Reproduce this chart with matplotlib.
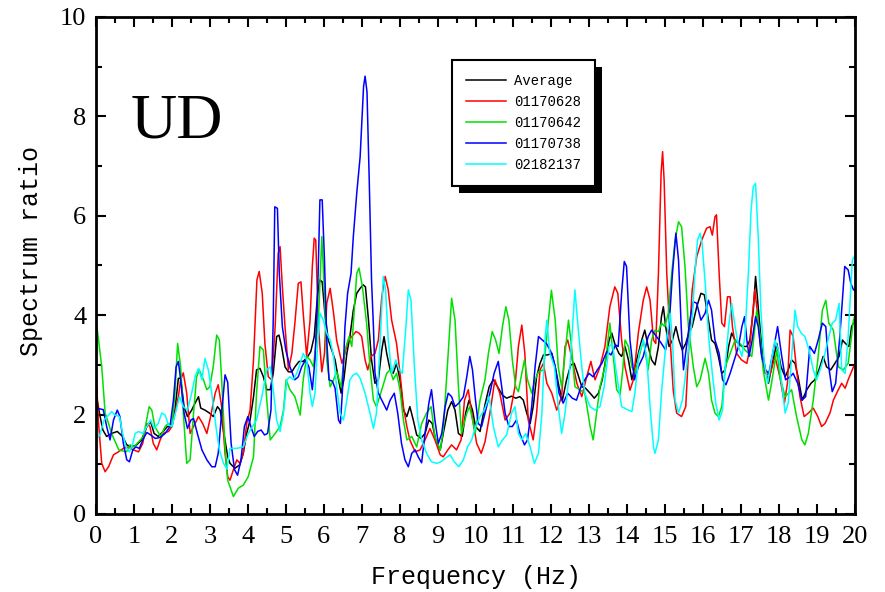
import matplotlib
matplotlib.use("Agg")
import matplotlib.pyplot as plt
import matplotlib.patheffects as pe
from matplotlib.ticker import MultipleLocator

# (frequency Hz, spectrum ratio)
average = [
    (0, 2.43), (0.09, 2.03), (0.18, 1.69), (0.28, 1.56), (0.41, 1.62), (0.56, 1.66), (0.7, 1.56),
    (0.81, 1.39), (0.94, 1.35), (1.07, 1.39), (1.2, 1.49), (1.34, 1.76), (1.44, 1.86), (1.53, 1.62),
    (1.64, 1.56), (1.77, 1.66), (1.88, 1.76), (2.0, 1.76), (2.08, 2.09), (2.17, 2.73), (2.23, 2.73),
    (2.32, 2.16), (2.41, 1.96), (2.52, 2.09), (2.61, 2.23), (2.7, 2.36), (2.76, 2.13), (2.87, 2.09),
    (2.99, 2.03), (3.09, 1.96), (3.2, 2.16), (3.27, 2.09), (3.37, 1.62), (3.47, 1.15), (3.53, 1.02),
    (3.66, 0.92), (3.79, 0.99), (3.88, 1.22), (3.97, 1.62), (4.06, 1.89), (4.15, 2.36), (4.23, 2.9),
    (4.32, 2.93), (4.41, 2.76), (4.5, 2.5), (4.59, 2.5), (4.67, 2.83), (4.76, 3.57), (4.82, 3.6),
    (4.89, 3.37), (4.98, 2.96), (5.07, 2.86), (5.16, 2.86), (5.24, 2.96), (5.35, 3.07), (5.46, 3.07),
    (5.58, 3.17), (5.66, 3.27), (5.75, 3.57), (5.84, 4.44), (5.9, 4.71), (5.96, 4.67), (6.03, 4.04),
    (6.12, 3.5), (6.21, 3.3), (6.3, 3.1), (6.39, 2.7), (6.46, 2.43), (6.53, 2.7), (6.61, 3.23),
    (6.69, 3.57), (6.78, 4.1), (6.87, 4.44), (6.96, 4.54), (7.04, 4.61), (7.1, 4.57), (7.18, 3.9),
    (7.26, 3.1), (7.35, 2.63), (7.44, 2.7), (7.53, 3.3), (7.59, 3.57), (7.66, 3.23), (7.75, 2.9),
    (7.83, 2.83), (7.92, 3.03), (8.01, 2.7), (8.1, 2.09), (8.19, 1.96), (8.27, 2.16), (8.36, 1.89),
    (8.45, 1.59), (8.56, 1.52), (8.67, 1.62), (8.77, 1.89), (8.86, 1.82), (8.95, 1.49), (9.07, 1.29),
    (9.15, 1.62), (9.27, 2.09), (9.37, 2.26), (9.46, 2.09), (9.55, 1.62), (9.65, 1.56), (9.74, 2.03),
    (9.83, 2.29), (9.92, 2.09), (10.0, 1.76), (10.12, 1.66), (10.25, 2.2), (10.36, 2.56), (10.47, 2.7),
    (10.58, 2.56), (10.71, 2.39), (10.82, 2.33), (10.95, 2.37), (11.06, 2.33), (11.17, 2.36),
    (11.26, 2.29), (11.35, 2.03), (11.44, 1.82), (11.52, 2.16), (11.61, 2.76), (11.7, 3.03),
    (11.79, 3.2), (11.9, 3.2), (12.01, 3.23), (12.1, 2.96), (12.2, 2.56), (12.29, 2.29), (12.4, 2.7),
    (12.51, 3.0), (12.6, 3.03), (12.69, 2.83), (12.8, 2.56), (12.9, 2.53), (13.02, 2.43), (13.13, 2.33),
    (13.24, 2.43), (13.34, 2.7), (13.43, 3.1), (13.52, 3.5), (13.59, 3.64), (13.68, 3.4), (13.78, 3.23),
    (13.85, 3.17), (13.94, 3.37), (14.03, 3.1), (14.12, 2.7), (14.2, 2.96), (14.29, 3.23), (14.38, 3.5),
    (14.46, 3.7), (14.55, 3.37), (14.64, 3.1), (14.73, 3.0), (14.82, 3.37), (14.9, 3.97), (14.95, 4.17),
    (15.01, 3.77), (15.1, 3.37), (15.19, 3.5), (15.28, 3.77), (15.36, 3.5), (15.45, 3.3), (15.54, 3.43),
    (15.62, 3.64), (15.71, 3.77), (15.83, 4.17), (15.94, 4.44), (16.03, 4.41), (16.11, 4.04),
    (16.22, 3.5), (16.31, 3.43), (16.4, 3.17), (16.49, 2.83), (16.58, 2.9), (16.67, 3.37), (16.75, 3.64),
    (16.84, 3.5), (16.93, 3.43), (17.02, 3.37), (17.15, 3.37), (17.23, 3.5), (17.32, 4.1), (17.38, 4.78),
    (17.45, 4.17), (17.54, 3.37), (17.64, 2.9), (17.72, 2.63), (17.82, 3.03), (17.94, 3.43),
    (18.05, 2.96), (18.16, 2.76), (18.24, 2.9), (18.33, 3.1), (18.42, 3.03), (18.5, 2.76), (18.61, 2.29),
    (18.73, 2.5), (18.84, 2.63), (18.94, 2.7), (19.05, 2.9), (19.16, 3.17), (19.25, 2.96), (19.36, 2.9),
    (19.47, 3.03), (19.58, 3.17), (19.67, 3.5), (19.75, 3.43), (19.84, 3.37), (19.91, 3.77), (20.0, 3.9),
]

rec_0628 = [
    (0, 2.93), (0.06, 1.89), (0.15, 1.02), (0.24, 0.85), (0.33, 0.95), (0.46, 1.19), (0.59, 1.25),
    (0.72, 1.32), (0.85, 1.35), (0.98, 1.29), (1.12, 1.25), (1.23, 1.42), (1.34, 1.82), (1.42, 1.76),
    (1.51, 1.42), (1.6, 1.29), (1.69, 1.49), (1.77, 1.62), (1.91, 1.66), (2.0, 1.76), (2.08, 2.03),
    (2.17, 2.36), (2.23, 2.7), (2.3, 2.84), (2.39, 2.43), (2.48, 1.62), (2.57, 1.76), (2.7, 1.96),
    (2.81, 1.82), (2.92, 1.62), (3.0, 1.89), (3.14, 2.43), (3.22, 2.6), (3.31, 2.16), (3.4, 1.22),
    (3.47, 0.75), (3.53, 0.68), (3.62, 0.89), (3.71, 1.09), (3.79, 1.02), (3.88, 1.22), (3.97, 1.82),
    (4.06, 2.09), (4.15, 3.1), (4.24, 4.71), (4.3, 4.88), (4.38, 4.44), (4.45, 3.43), (4.54, 2.76),
    (4.63, 2.7), (4.72, 3.77), (4.8, 5.24), (4.85, 5.38), (4.91, 4.57), (4.98, 3.77), (5.07, 2.9),
    (5.16, 3.23), (5.24, 3.84), (5.33, 4.64), (5.4, 4.67), (5.46, 4.04), (5.55, 3.17), (5.64, 3.9),
    (5.7, 4.98), (5.75, 5.55), (5.79, 5.51), (5.86, 3.77), (5.95, 2.86), (6.02, 3.23), (6.08, 4.24),
    (6.17, 4.54), (6.26, 4.04), (6.34, 3.5), (6.48, 3.03), (6.56, 3.23), (6.65, 3.5), (6.74, 3.57),
    (6.85, 3.67), (6.93, 3.64), (7.0, 3.57), (7.09, 3.1), (7.16, 2.9), (7.25, 3.17), (7.35, 3.23),
    (7.44, 3.5), (7.53, 4.37), (7.62, 4.78), (7.7, 4.51), (7.79, 3.9), (7.92, 3.43), (8.01, 2.83),
    (8.1, 2.16), (8.19, 1.76), (8.27, 1.49), (8.41, 1.25), (8.54, 1.29), (8.67, 1.49), (8.8, 1.72),
    (8.93, 1.49), (9.07, 1.19), (9.15, 1.15), (9.27, 1.29), (9.37, 1.39), (9.5, 1.29), (9.62, 1.49),
    (9.71, 2.29), (9.81, 2.5), (9.9, 2.03), (10.03, 1.42), (10.15, 1.22), (10.25, 1.45), (10.38, 2.03),
    (10.51, 2.7), (10.64, 2.43), (10.78, 1.89), (10.91, 2.03), (11.04, 2.56), (11.13, 3.37),
    (11.22, 3.8), (11.3, 3.23), (11.39, 1.89), (11.52, 1.49), (11.61, 2.03), (11.7, 2.9), (11.79, 3.03),
    (11.88, 2.63), (12.01, 2.43), (12.14, 2.09), (12.27, 2.36), (12.36, 3.37), (12.43, 3.5),
    (12.53, 3.17), (12.67, 2.63), (12.8, 2.36), (12.93, 2.76), (13.04, 3.07), (13.15, 2.7),
    (13.28, 2.96), (13.41, 3.37), (13.54, 4.17), (13.67, 4.57), (13.75, 4.44), (13.85, 3.5),
    (13.94, 2.96), (14.07, 2.49), (14.16, 2.7), (14.29, 3.64), (14.42, 4.3), (14.51, 4.57), (14.6, 4.3),
    (14.69, 3.5), (14.75, 3.43), (14.82, 4.84), (14.89, 6.85), (14.93, 7.29), (14.97, 6.72),
    (15.04, 4.84), (15.13, 3.5), (15.21, 2.49), (15.3, 2.03), (15.43, 1.96), (15.54, 2.16),
    (15.62, 3.37), (15.71, 4.51), (15.83, 5.18), (15.96, 5.51), (16.09, 5.75), (16.18, 5.78),
    (16.24, 5.61), (16.31, 5.98), (16.35, 6.02), (16.42, 4.84), (16.49, 3.84), (16.56, 3.77),
    (16.64, 4.37), (16.71, 4.37), (16.77, 3.77), (16.88, 3.23), (17.01, 3.1), (17.15, 3.03),
    (17.22, 3.3), (17.29, 3.9), (17.36, 4.51), (17.43, 4.04), (17.52, 3.3), (17.63, 2.83), (17.76, 2.8),
    (17.89, 3.17), (18.02, 2.76), (18.14, 2.23), (18.22, 2.63), (18.29, 3.7), (18.37, 3.57),
    (18.46, 2.9), (18.55, 2.36), (18.66, 1.96), (18.77, 2.03), (18.9, 2.13), (19.02, 1.96),
    (19.12, 1.76), (19.21, 1.82), (19.34, 2.03), (19.43, 2.29), (19.56, 2.5), (19.65, 2.63),
    (19.74, 2.53), (19.82, 2.7), (19.96, 2.96), (20.0, 3.0),
]

rec_0642 = [
    (0, 3.92), (0.15, 2.97), (0.24, 2.03), (0.33, 1.82), (0.41, 1.62), (0.6, 1.29), (0.8, 1.25),
    (0.9, 1.39), (1.0, 1.35), (1.25, 1.56), (1.4, 2.16), (1.47, 2.09), (1.55, 1.76), (1.7, 1.56),
    (1.82, 1.76), (1.9, 1.82), (2.0, 1.76), (2.08, 2.43), (2.15, 3.43), (2.23, 2.96), (2.3, 2.03),
    (2.39, 1.02), (2.48, 1.09), (2.57, 2.03), (2.65, 2.76), (2.72, 2.9), (2.83, 2.7), (2.92, 2.5),
    (3.0, 2.56), (3.09, 2.97), (3.18, 3.6), (3.25, 3.5), (3.31, 2.7), (3.4, 1.35), (3.47, 0.68),
    (3.62, 0.35), (3.75, 0.52), (3.88, 0.58), (4.01, 0.75), (4.15, 1.15), (4.23, 2.43), (4.32, 3.37),
    (4.41, 3.3), (4.5, 2.29), (4.59, 1.49), (4.72, 1.62), (4.85, 1.76), (4.94, 2.09), (5.01, 2.7),
    (5.11, 2.5), (5.24, 2.36), (5.38, 1.99), (5.46, 2.7), (5.55, 3.17), (5.64, 3.1), (5.73, 2.96),
    (5.86, 3.9), (5.95, 5.58), (6.02, 4.44), (6.08, 3.1), (6.17, 2.56), (6.26, 2.7), (6.34, 2.86),
    (6.46, 2.56), (6.56, 3.3), (6.67, 3.57), (6.74, 3.37), (6.87, 4.84), (6.93, 4.95), (7.02, 4.57),
    (7.13, 3.84), (7.22, 2.96), (7.31, 2.29), (7.39, 2.16), (7.53, 2.5), (7.66, 2.83), (7.75, 2.9),
    (7.83, 2.7), (7.92, 2.83), (8.01, 2.5), (8.1, 1.89), (8.19, 1.49), (8.32, 1.56), (8.45, 1.35),
    (8.58, 1.82), (8.71, 2.03), (8.83, 2.16), (8.93, 1.56), (9.07, 1.29), (9.15, 1.69), (9.28, 3.23),
    (9.37, 4.34), (9.46, 3.9), (9.55, 2.56), (9.63, 1.62), (9.77, 2.03), (9.85, 2.16), (9.99, 1.62),
    (10.12, 2.29), (10.25, 2.7), (10.34, 3.23), (10.44, 3.67), (10.53, 3.5), (10.62, 3.23),
    (10.71, 3.77), (10.8, 4.17), (10.88, 3.9), (10.97, 3.1), (11.06, 2.56), (11.13, 2.46),
    (11.22, 2.83), (11.29, 3.1), (11.37, 2.7), (11.48, 2.43), (11.57, 2.7), (11.66, 2.86), (11.79, 2.9),
    (11.92, 3.9), (12.0, 4.5), (12.1, 3.9), (12.18, 2.96), (12.27, 2.56), (12.36, 3.23), (12.45, 3.9),
    (12.53, 3.37), (12.62, 2.56), (12.75, 2.5), (12.88, 2.43), (13.02, 1.76), (13.1, 1.49),
    (13.19, 2.03), (13.28, 2.56), (13.41, 2.96), (13.54, 3.84), (13.63, 3.17), (13.72, 2.5),
    (13.81, 2.4), (13.88, 2.9), (13.94, 3.5), (14.03, 3.37), (14.12, 2.96), (14.2, 2.83), (14.33, 3.23),
    (14.42, 3.5), (14.55, 2.9), (14.64, 3.5), (14.73, 3.7), (14.82, 3.67), (14.9, 3.84), (14.99, 3.77),
    (15.08, 4.04), (15.17, 4.84), (15.26, 5.51), (15.35, 5.88), (15.43, 5.78), (15.52, 4.98),
    (15.61, 3.77), (15.74, 2.96), (15.83, 2.56), (15.92, 2.7), (16.05, 3.13), (16.14, 2.83),
    (16.22, 2.29), (16.31, 2.03), (16.4, 1.96), (16.49, 2.16), (16.58, 2.96), (16.71, 3.23),
    (16.84, 3.5), (16.97, 3.43), (17.1, 3.3), (17.28, 3.17), (17.41, 4.1), (17.5, 3.57), (17.58, 2.9),
    (17.72, 2.29), (17.8, 2.63), (17.94, 3.3), (18.02, 2.76), (18.16, 2.36), (18.33, 2.5),
    (18.46, 1.96), (18.6, 1.49), (18.68, 1.39), (18.77, 1.62), (18.9, 2.29), (19.03, 3.17),
    (19.14, 4.1), (19.23, 4.3), (19.31, 3.84), (19.43, 3.7), (19.56, 2.96), (19.69, 2.9), (19.82, 3.03),
    (19.96, 3.9), (20.0, 4.0),
]

rec_0738 = [
    (0, 2.13), (0.19, 2.1), (0.28, 1.76), (0.37, 1.49), (0.46, 1.89), (0.56, 2.09), (0.63, 1.96),
    (0.72, 1.42), (0.81, 1.09), (0.88, 1.05), (0.97, 1.29), (1.05, 1.35), (1.14, 1.32), (1.25, 1.52),
    (1.34, 1.64), (1.44, 1.59), (1.56, 1.52), (1.69, 1.54), (1.82, 1.62), (1.95, 1.76), (2.04, 2.29),
    (2.11, 2.96), (2.17, 3.07), (2.23, 2.7), (2.32, 2.03), (2.41, 1.72), (2.5, 1.89), (2.57, 1.92),
    (2.67, 1.62), (2.79, 1.29), (2.92, 1.09), (3.05, 0.95), (3.14, 0.95), (3.22, 1.22), (3.31, 2.03),
    (3.4, 2.8), (3.47, 2.65), (3.56, 1.42), (3.65, 0.89), (3.73, 0.78), (3.82, 1.09), (3.91, 1.76),
    (4.0, 1.96), (4.08, 1.76), (4.17, 1.56), (4.26, 1.66), (4.35, 1.69), (4.44, 1.59), (4.52, 1.62),
    (4.61, 2.09), (4.67, 3.9), (4.71, 6.18), (4.78, 6.15), (4.83, 4.84), (4.91, 3.77), (5.0, 3.3),
    (5.11, 2.96), (5.24, 2.7), (5.33, 2.76), (5.42, 2.96), (5.52, 3.1), (5.61, 2.96), (5.7, 2.5),
    (5.77, 3.1), (5.84, 4.44), (5.9, 6.32), (5.96, 6.32), (6.02, 5.11), (6.08, 3.5), (6.14, 2.7),
    (6.23, 2.67), (6.3, 2.53), (6.39, 1.89), (6.44, 1.82), (6.49, 2.43), (6.56, 3.77), (6.63, 4.44),
    (6.72, 4.84), (6.78, 5.58), (6.87, 6.45), (6.96, 7.19), (7.05, 8.6), (7.09, 8.81), (7.14, 8.5),
    (7.2, 6.7), (7.26, 4.71), (7.31, 3.77), (7.35, 2.84), (7.44, 2.43), (7.57, 2.23), (7.66, 2.09),
    (7.75, 2.29), (7.86, 2.43), (7.95, 2.03), (8.05, 1.42), (8.14, 1.09), (8.23, 0.95), (8.32, 1.22),
    (8.41, 1.29), (8.49, 1.15), (8.58, 1.03), (8.67, 1.62), (8.77, 2.23), (8.84, 2.5), (8.93, 1.89),
    (9.02, 1.42), (9.11, 1.62), (9.2, 2.16), (9.28, 2.43), (9.37, 2.36), (9.46, 2.16), (9.56, 2.23),
    (9.68, 2.36), (9.77, 2.76), (9.85, 3.17), (9.92, 2.9), (9.99, 2.36), (10.07, 1.82), (10.16, 1.76),
    (10.26, 2.06), (10.38, 2.43), (10.49, 2.83), (10.6, 3.07), (10.69, 2.56), (10.78, 2.03),
    (10.88, 1.76), (10.97, 1.76), (11.08, 1.89), (11.17, 1.62), (11.29, 1.39), (11.37, 1.49),
    (11.48, 2.16), (11.57, 2.96), (11.66, 3.57), (11.76, 3.5), (11.87, 3.43), (12.01, 3.23),
    (12.1, 2.96), (12.2, 2.43), (12.31, 2.23), (12.43, 2.43), (12.55, 2.33), (12.66, 2.29),
    (12.78, 2.56), (12.88, 2.7), (12.99, 2.83), (13.1, 2.76), (13.21, 2.9), (13.33, 3.03),
    (13.46, 3.27), (13.57, 3.2), (13.69, 3.4), (13.76, 3.37), (13.85, 4.44), (13.92, 5.08),
    (13.98, 4.98), (14.07, 3.5), (14.19, 2.7), (14.29, 2.96), (14.42, 3.17), (14.55, 3.57),
    (14.64, 3.7), (14.77, 3.57), (14.9, 3.43), (15.01, 3.3), (15.1, 3.77), (15.19, 4.84), (15.28, 5.65),
    (15.35, 5.11), (15.42, 3.77), (15.48, 2.9), (15.56, 3.37), (15.65, 3.9), (15.74, 4.27),
    (15.83, 4.24), (15.94, 3.9), (16.05, 4.04), (16.14, 4.3), (16.22, 4.1), (16.31, 3.5), (16.42, 3.23),
    (16.51, 2.7), (16.6, 2.6), (16.71, 2.83), (16.82, 3.1), (16.93, 3.37), (17.02, 3.77), (17.09, 3.97),
    (17.15, 3.5), (17.21, 3.17), (17.29, 3.5), (17.38, 3.97), (17.45, 3.77), (17.54, 3.17),
    (17.64, 2.9), (17.73, 2.83), (17.85, 3.3), (17.96, 3.77), (18.07, 3.17), (18.17, 2.7), (18.29, 2.76),
    (18.37, 2.83), (18.49, 2.63), (18.6, 2.29), (18.7, 2.36), (18.81, 3.37), (18.93, 3.23), (19.03, 3.5),
    (19.14, 3.84), (19.23, 3.77), (19.31, 2.96), (19.4, 2.46), (19.49, 2.63), (19.6, 3.57),
    (19.73, 4.98), (19.82, 4.91), (19.89, 4.64), (19.96, 4.51), (20.0, 4.5),
]

rec_2137 = [
    (0, 1.49), (0.1, 1.59), (0.21, 1.89), (0.33, 1.99), (0.41, 2.06), (0.5, 1.99), (0.62, 1.96),
    (0.7, 1.62), (0.79, 1.35), (0.88, 1.25), (0.97, 1.42), (1.03, 1.62), (1.12, 1.66), (1.23, 1.62),
    (1.34, 1.76), (1.44, 1.89), (1.53, 1.72), (1.64, 1.82), (1.73, 2.03), (1.82, 1.99), (1.91, 1.79),
    (2.0, 1.76), (2.08, 1.99), (2.2, 2.36), (2.3, 2.16), (2.41, 2.09), (2.52, 2.43), (2.61, 2.76),
    (2.7, 2.93), (2.79, 2.7), (2.87, 3.13), (2.96, 2.9), (3.05, 2.43), (3.16, 1.76), (3.25, 1.29),
    (3.36, 1.02), (3.45, 0.9), (3.53, 1.32), (3.71, 1.32), (3.88, 1.35), (4.01, 1.62), (4.15, 1.79),
    (4.23, 1.89), (4.37, 2.36), (4.5, 2.9), (4.59, 2.96), (4.67, 2.5), (4.76, 1.89), (4.85, 1.66),
    (4.94, 2.03), (5.03, 2.7), (5.11, 2.76), (5.2, 2.7), (5.29, 2.83), (5.38, 3.03), (5.46, 3.23),
    (5.55, 3.1), (5.64, 2.43), (5.7, 2.16), (5.77, 2.43), (5.84, 3.43), (5.9, 4.04), (5.99, 3.9),
    (6.08, 3.64), (6.17, 3.5), (6.26, 3.17), (6.34, 2.56), (6.43, 2.03), (6.52, 1.89), (6.61, 2.29),
    (6.69, 2.7), (6.78, 2.8), (6.87, 2.83), (6.96, 2.73), (7.09, 2.43), (7.22, 2.03), (7.31, 1.72),
    (7.39, 2.03), (7.48, 3.37), (7.57, 4.78), (7.63, 4.51), (7.7, 3.5), (7.79, 2.83), (7.9, 3.1),
    (7.99, 2.9), (8.07, 2.83), (8.16, 3.7), (8.23, 4.51), (8.3, 4.3), (8.39, 2.96), (8.48, 1.89),
    (8.58, 1.49), (8.71, 1.22), (8.84, 1.05), (8.98, 1.02), (9.09, 1.05), (9.2, 1.12), (9.33, 1.19),
    (9.44, 1.05), (9.56, 0.95), (9.68, 1.09), (9.79, 1.35), (9.9, 1.49), (10.0, 1.76), (10.12, 1.96),
    (10.23, 2.09), (10.36, 2.36), (10.47, 1.76), (10.6, 1.35), (10.71, 1.49), (10.82, 1.59),
    (10.95, 2.03), (11.04, 2.16), (11.13, 1.62), (11.22, 1.49), (11.32, 1.62), (11.44, 1.35),
    (11.55, 1.02), (11.66, 1.22), (11.75, 2.03), (11.83, 3.5), (11.88, 3.9), (11.96, 3.23),
    (12.08, 2.96), (12.18, 2.16), (12.27, 1.62), (12.36, 2.03), (12.49, 2.96), (12.58, 4.04),
    (12.62, 4.51), (12.71, 3.7), (12.8, 2.96), (12.88, 2.43), (13.02, 2.16), (13.15, 2.09),
    (13.28, 2.16), (13.39, 2.56), (13.52, 3.37), (13.61, 3.43), (13.7, 2.9), (13.85, 2.16),
    (14.03, 2.09), (14.12, 2.06), (14.2, 2.43), (14.31, 3.23), (14.42, 3.5), (14.51, 3.17), (14.6, 2.16),
    (14.69, 1.35), (14.73, 1.22), (14.82, 1.49), (14.9, 2.43), (15.01, 3.37), (15.13, 4.04),
    (15.19, 3.5), (15.26, 2.29), (15.35, 2.03), (15.45, 2.29), (15.54, 2.83), (15.62, 3.37),
    (15.71, 3.9), (15.78, 4.84), (15.85, 5.51), (15.92, 5.65), (15.97, 5.45), (16.06, 4.57),
    (16.15, 3.5), (16.24, 2.83), (16.33, 2.23), (16.42, 1.89), (16.51, 2.09), (16.58, 2.96),
    (16.67, 3.77), (16.75, 4.24), (16.84, 3.77), (16.93, 3.37), (17.02, 3.17), (17.1, 3.6),
    (17.19, 4.84), (17.26, 6.1), (17.32, 6.59), (17.38, 6.65), (17.45, 5.58), (17.52, 4.1),
    (17.61, 3.03), (17.7, 2.63), (17.8, 3.1), (17.89, 3.5), (17.98, 3.3), (18.07, 2.63), (18.16, 2.03),
    (18.24, 2.23), (18.33, 3.17), (18.42, 4.1), (18.49, 3.77), (18.58, 3.64), (18.68, 3.57),
    (18.79, 3.3), (18.9, 2.9), (18.99, 2.7), (19.08, 2.9), (19.19, 3.17), (19.29, 3.5), (19.4, 3.84),
    (19.49, 3.9), (19.58, 4.24), (19.65, 2.9), (19.74, 2.83), (19.82, 3.57), (19.93, 5.11), (20.0, 5.2),
]

labels = ["Average", "01170628", "01170642", "01170738", "02182137"]
colors = ["black", "#ff0000", "#00e000", "#0000ff", "#00ffff"]
series = [average, rec_0628, rec_0642, rec_0738, rec_2137]

plt.rcParams["font.family"] = "Liberation Serif"

fig = plt.figure(figsize=(8.85, 5.92), dpi=100)
ax = fig.add_axes([0.1085, 0.1318, 0.8576, 0.8395])

for data, lab, col in zip(series, labels, colors):
    f, v = zip(*data)
    ax.plot(f, v, color=col, lw=1.1, label=lab)

ax.set_xlim(0, 20)
ax.set_ylim(0, 10)
ax.xaxis.set_major_locator(MultipleLocator(1))
ax.xaxis.set_minor_locator(MultipleLocator(0.5))
ax.yaxis.set_major_locator(MultipleLocator(2))
ax.yaxis.set_minor_locator(MultipleLocator(1))
ax.tick_params(which="both", direction="in", top=True, right=True, width=1.5)
ax.tick_params(which="major", length=7, labelsize=19)
ax.tick_params(axis="x", which="major", pad=9)
ax.tick_params(axis="y", which="major", pad=7)
ax.tick_params(which="minor", length=4)
for s in ax.spines.values():
    s.set_linewidth(2.0)

ax.set_xlabel("Frequency (Hz)", family="Liberation Mono", fontsize=18, labelpad=12)
ax.set_ylabel("Spectrum ratio", family="Liberation Mono", fontsize=18)
ax.yaxis.set_label_coords(-0.07, 0.53)

ax.text(0.045, 0.757, "UD", transform=ax.transAxes, fontsize=46, va="baseline", ha="left")

leg = ax.legend(loc="upper left", bbox_to_anchor=(0.469, 0.913), borderaxespad=0,
                prop={"family": "Liberation Mono", "size": 10}, fancybox=False,
                framealpha=1, edgecolor="black", handlelength=2.9, handletextpad=0.55,
                labelspacing=0.5, borderpad=1.0)
frame = leg.get_frame()
frame.set_linewidth(1.5)
frame.set_path_effects([pe.SimplePatchShadow(offset=(5, -5), shadow_rgbFace="black", alpha=1),
                        pe.Normal()])

fig.savefig("out.png", dpi=100)
